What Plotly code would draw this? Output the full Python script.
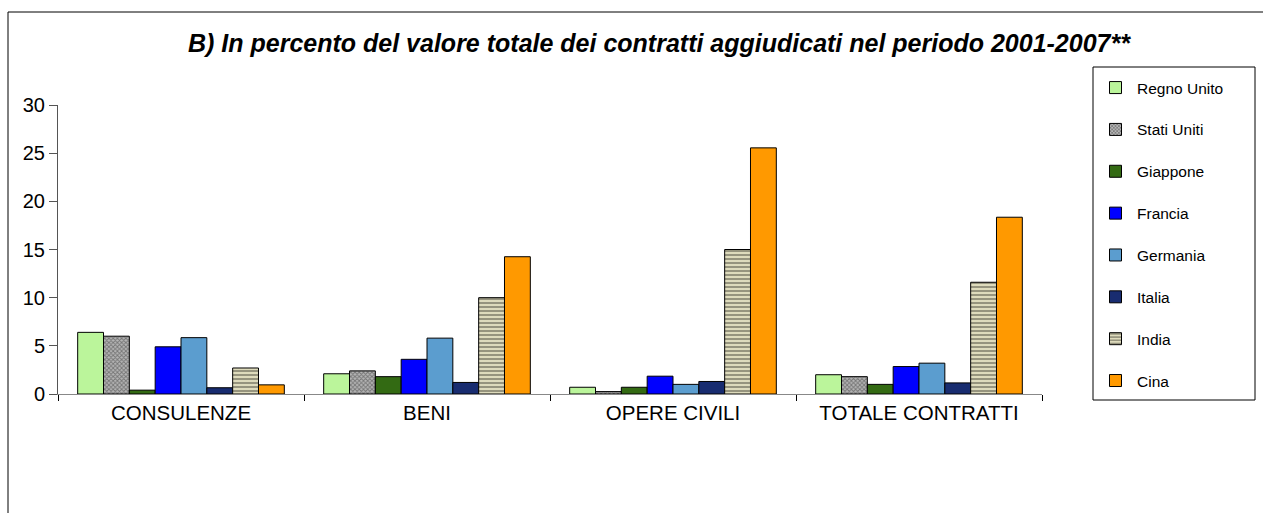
import plotly.graph_objects as go

categories = ["CONSULENZE", "BENI", "OPERE CIVILI", "TOTALE CONTRATTI"]
regno_unito = [6.4, 2.1, 0.7, 2.0]
stati_uniti = [6.0, 2.4, 0.25, 1.8]
giappone = [0.4, 1.8, 0.7, 1.0]
francia = [4.9, 3.6, 1.85, 2.85]
germania = [5.85, 5.8, 1.0, 3.2]
italia = [0.65, 1.2, 1.3, 1.15]
india = [2.7, 10.0, 15.0, 11.6]
cina = [0.95, 14.25, 25.55, 18.35]

series = [
    ("Regno Unito", regno_unito, "#bbf59b", None),
    ("Stati Uniti", stati_uniti, "#8a8a8a", dict(shape="x", fgcolor="#333333", bgcolor="#b5b5b5", size=3, solidity=0.5)),
    ("Giappone", giappone, "#336a13", None),
    ("Francia", francia, "#0000ff", None),
    ("Germania", germania, "#5b9dcf", None),
    ("Italia", italia, "#182c70", None),
    ("India", india, "#d9d6b4", dict(shape="-", fgcolor="#45453a", bgcolor="#e6e3c3", size=4, solidity=0.55)),
    ("Cina", cina, "#ff9900", None),
]

fig = go.Figure()
for name, vals, col, pat in series:
    marker = dict(color=col, line=dict(color="black", width=1))
    if pat:
        marker["pattern"] = pat
    fig.add_trace(go.Bar(name=name, x=categories, y=vals, marker=marker, legendgroup=name))

# plot area 58..1042 x, 105..394 y
W, H = 1263, 513
l, r, t, b = 58, W - 1042, 105, H - 394
pw, ph = W - l - r, H - t - b

def px_x(p):
    return (p - l) / pw

def px_y(p):
    return (H - b - p) / ph

# outer frame
fig.add_shape(type="rect", xref="paper", yref="paper",
              x0=px_x(8), x1=px_x(1275), y0=px_y(525), y1=px_y(12),
              line=dict(color="black", width=1), fillcolor="rgba(0,0,0,0)", layer="below")
# legend box
fig.add_shape(type="rect", xref="paper", yref="paper",
              x0=px_x(1093), x1=px_x(1255), y0=px_y(400), y1=px_y(67),
              line=dict(color="black", width=1), fillcolor="rgba(0,0,0,0)", layer="above")

fig.update_layout(
    width=W, height=H,
    margin=dict(l=l, r=r, t=t, b=b),
    paper_bgcolor="white", plot_bgcolor="white",
    barmode="group", bargap=0.16, bargroupgap=0,
    font=dict(family="Liberation Sans, Arial", color="black"),
    title=dict(text="<b><i>B) In percento del valore totale dei contratti aggiudicati nel periodo 2001-2007**</i></b>",
               xref="container", x=659 / W, xanchor="center", y=1 - 43 / H, yanchor="middle",
               font=dict(size=25, color="black")),
    legend=dict(x=px_x(1094), y=px_y(71), xanchor="left", yanchor="top",
                borderwidth=0, bgcolor="rgba(0,0,0,0)",
                font=dict(size=15.5), traceorder="grouped", tracegroupgap=18.7,
                itemwidth=33, maxheight=400),
    xaxis=dict(showline=True, linecolor="#888888", linewidth=1,
               ticks="outside", tickson="boundaries", ticklen=6, tickcolor="black",
               tickfont=dict(size=20.5), showgrid=False),
    yaxis=dict(range=[0, 30], dtick=5, showline=True, linecolor="#555555", linewidth=1,
               ticks="outside", ticklen=8, tickcolor="#555555", showgrid=False,
               zeroline=False, tickfont=dict(size=20)),
)

fig.write_html("out.html", config={"displayModeBar": False},
               post_script="document.body.style.margin='0';")
